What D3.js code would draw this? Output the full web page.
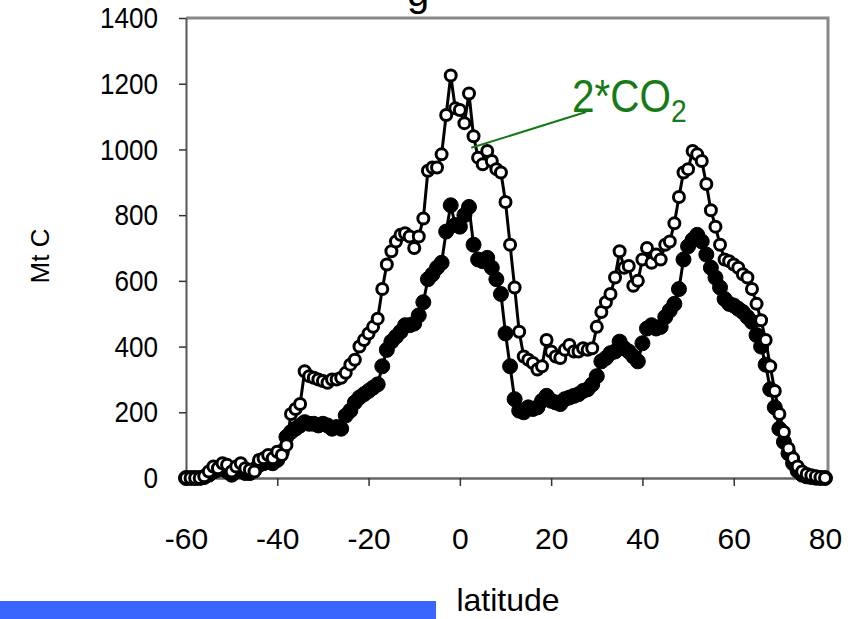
<!DOCTYPE html>
<html><head><meta charset="utf-8">
<script src="https://cdn.jsdelivr.net/npm/d3@7"></script>
<style>body{margin:0;background:#fff}svg{display:block}</style>
</head><body>
<script>
// latitude (degrees), one point per degree
const latitudes = d3.range(-60, 81);
// 2*CO2 run (open circles), Mt C
const co2x2 = [0,0,0,0,5,20,35,30,45,40,20,35,45,30,25,20,55,60,70,60,80,70,100,195,210,225,325,310,305,300,295,290,300,300,305,320,345,360,400,420,440,460,485,575,650,690,720,740,745,735,700,735,790,935,945,945,985,1105,1225,1125,1120,1080,1170,1040,975,955,995,965,940,930,840,710,580,445,370,360,350,330,340,420,385,370,365,390,405,385,385,395,390,395,460,505,535,560,610,690,640,645,585,600,665,700,655,680,665,710,720,775,855,930,940,995,985,965,895,815,765,710,665,660,650,640,620,610,575,530,480,420,340,265,195,140,90,60,35,20,12,8,5,2,0];
// control run (filled circles), Mt C
const control = [0,0,0,0,3,10,20,25,30,20,10,20,25,15,15,25,40,45,50,45,55,80,125,140,150,160,170,165,165,160,165,160,150,155,150,190,205,230,245,255,265,275,285,340,390,415,430,445,465,465,470,495,535,605,620,640,655,750,830,770,765,800,825,710,665,660,670,640,605,560,440,340,240,205,200,215,210,215,235,250,235,230,225,240,245,250,255,265,270,285,310,355,365,380,385,415,395,385,370,355,410,455,465,455,460,490,510,530,575,665,705,725,740,720,680,640,610,580,545,530,525,515,505,490,475,435,400,345,270,215,150,110,75,45,22,10,5,3,1,0,0];
const xTicks = [-60,-40,-20,0,20,40,60,80];
const yTicks = [0,200,400,600,800,1000,1200,1400];

const W = 859, H = 619;
const svg = d3.select("body").append("svg").attr("width", W).attr("height", H);
const x = d3.scaleLinear().domain([-60, 80]).range([186, 825]);
const y = d3.scaleLinear().domain([0, 1400]).range([478, 18]);
const fontFam = "Liberation Sans, Arial, sans-serif";

// partially clipped title (only the descender shows, as in the original)
svg.append("text").attr("x", 418).attr("y", 6).attr("text-anchor", "middle")
  .attr("font-family", fontFam).attr("font-size", 40).text("g");

// frame (top & right grey)
svg.append("path").attr("d", `M${x(-60)},${y(1400)}H${x(80)+3}V${y(0)}`)
  .attr("fill", "none").attr("stroke", "#888").attr("stroke-width", 3);

// axes
const yAxis = svg.append("g").attr("transform", `translate(${x(-60)},0)`)
  .call(d3.axisLeft(y).tickValues(yTicks).tickFormat(d => String(d))
    .tickSize(7).tickPadding(21).tickSizeOuter(0));
yAxis.select(".domain").attr("stroke", "#555").attr("stroke-width", 2);
yAxis.selectAll(".tick line").attr("stroke", "#333").attr("stroke-width", 1.5);
yAxis.selectAll("text").attr("font-family", fontFam).attr("font-size", 30).attr("fill", "#000")
  .attr("transform", function() { const xx = +d3.select(this).attr("x"); return `translate(${xx},0) scale(0.87,1) translate(${-xx},0)`; });

const xAxis = svg.append("g").attr("transform", `translate(0,${y(0)})`)
  .call(d3.axisBottom(x).tickValues(xTicks).tickFormat(d => String(d))
    .tickSize(8).tickPadding(42).tickSizeOuter(0));
xAxis.select(".domain").attr("stroke", "#666").attr("stroke-width", 2.5);
xAxis.selectAll(".tick line").attr("stroke", "#333").attr("stroke-width", 1.5);
xAxis.selectAll("text").attr("font-family", fontFam).attr("font-size", 30).attr("fill", "#000");

// axis titles
svg.append("text").attr("transform", `translate(49,256) rotate(-90)`).attr("text-anchor", "middle")
  .attr("font-family", fontFam).attr("font-size", 26).text("Mt C");
svg.append("rect").attr("x", 0).attr("y", 601).attr("width", 436).attr("height", 18).attr("fill", "#3a66ff");
svg.append("text").attr("x", 508).attr("y", 611).attr("text-anchor", "middle")
  .attr("font-family", fontFam).attr("font-size", 32).text("latitude");

// series
const line = d3.line().x((d, i) => x(latitudes[i])).y(d => y(d));
function drawSeries(vals, filled) {
  svg.append("path").datum(vals).attr("d", line).attr("fill", "none")
    .attr("stroke", "#000").attr("stroke-width", 3);
  svg.append("g").selectAll("circle").data(vals).join("circle")
    .attr("cx", (d, i) => x(latitudes[i])).attr("cy", d => y(d))
    .attr("r", filled ? 7.5 : 5.5)
    .attr("fill", filled ? "#000" : "#fff")
    .attr("stroke", "#000").attr("stroke-width", filled ? 1 : 3);
}
drawSeries(control, true);
drawSeries(co2x2, false);

// annotation
const ann = svg.append("g");
ann.append("line").attr("x1", x(2.5)).attr("y1", y(1005)).attr("x2", 586).attr("y2", 112)
  .attr("stroke", "#167a16").attr("stroke-width", 2);
const t = ann.append("text").attr("x", 572).attr("y", 112)
  .attr("font-family", fontFam).attr("font-size", 46).attr("fill", "#167a16")
  .attr("transform", "translate(572,0) scale(0.88,1) translate(-572,0)");
t.append("tspan").text("2*CO");
t.append("tspan").attr("font-size", 32).attr("dy", 10).text("2");
</script>
</body></html>
